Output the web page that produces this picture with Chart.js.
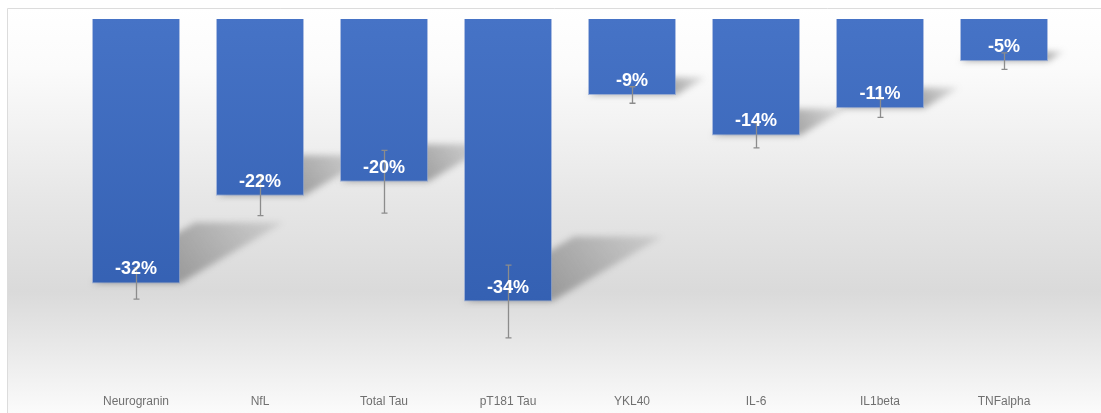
<!DOCTYPE html>
<html lang="en">
<head>
  <meta charset="UTF-8" />
  <title>Biomarker change</title>
  <script src="https://cdn.jsdelivr.net/npm/chart.js"></script>
  <style>
    html, body { margin: 0; padding: 0; background: #fff; overflow: hidden; }
    #chart { display: block; }
  </style>
</head>
<body>
  <canvas id="chart" width="1101" height="413"></canvas>

  <script>
    // data
    const markers = ['Neurogranin', 'NfL', 'Total Tau', 'pT181 Tau', 'YKL40', 'IL-6', 'IL1beta', 'TNFalpha'];
    const change = [-32.0, -21.4, -19.7, -34.2, -9.2, -14.1, -10.8, -5.1];
    const errors = [1.9, 2.4, 3.8, 4.4, 1.0, 1.5, 1.1, 1.0];
    const shownLabels = ['-32%', '-22%', '-20%', '-34%', '-9%', '-14%', '-11%', '-5%'];

    // background panel with soft gray band
    const panelBg = {
      id: 'panelBg',
      beforeDraw(chart) {
        const c = chart.ctx;
        const W = chart.width, H = chart.height;
        c.save();
        c.fillStyle = '#ffffff';
        c.fillRect(0, 0, W, H);
        const g = c.createLinearGradient(0, 8, 0, H);
        g.addColorStop(0, '#ffffff');
        g.addColorStop(0.15, '#fbfbfb');
        g.addColorStop(0.48, '#e6e6e6');
        g.addColorStop(0.7, '#dadada');
        g.addColorStop(0.84, '#e9e9e9');
        g.addColorStop(1, '#fbfbfb');
        c.fillStyle = g;
        c.fillRect(7, 8, W - 7, H - 8);
        c.strokeStyle = '#dcdcdc';
        c.lineWidth = 1;
        c.beginPath();
        c.moveTo(7.5, H);
        c.lineTo(7.5, 8.5);
        c.lineTo(W, 8.5);
        c.stroke();
        c.restore();
      }
    };

    // diagonal drop shadows behind the bars
    const barShadows = {
      id: 'barShadows',
      beforeDatasetsDraw(chart) {
        const c = chart.ctx;
        const meta = chart.getDatasetMeta(0);
        c.save();
        c.filter = 'blur(3px)';
        meta.data.forEach(bar => {
          const h = bar.y - bar.base;
          const xl = bar.x - bar.width / 2;
          const xr = bar.x + bar.width / 2;
          const dx = 0.39 * h, dy = 0.23 * h;
          const g = c.createLinearGradient(xr, bar.y, xr + dx, bar.y - dy);
          g.addColorStop(0, 'rgba(90,90,90,0.5)');
          g.addColorStop(1, 'rgba(90,90,90,0.14)');
          c.fillStyle = g;
          c.beginPath();
          c.moveTo(xl, bar.y);
          c.lineTo(xr, bar.y);
          c.lineTo(xr + dx, bar.y - dy);
          c.lineTo(xl + dx, bar.y - dy);
          c.closePath();
          c.fill();
        });
        c.restore();
      }
    };

    // error bars and value labels
    const barExtras = {
      id: 'barExtras',
      afterDatasetsDraw(chart) {
        const c = chart.ctx;
        const y = chart.scales.y;
        const meta = chart.getDatasetMeta(0);
        c.save();
        c.strokeStyle = '#8c8c8c';
        c.lineWidth = 1.3;
        meta.data.forEach((bar, i) => {
          const top = y.getPixelForValue(change[i] + errors[i]);
          const bot = y.getPixelForValue(change[i] - errors[i]);
          const x = Math.round(bar.x) + 0.5;
          c.beginPath();
          c.moveTo(x, top);
          c.lineTo(x, bot);
          c.moveTo(x - 3, top);
          c.lineTo(x + 3, top);
          c.moveTo(x - 3, bot);
          c.lineTo(x + 3, bot);
          c.stroke();
        });
        c.fillStyle = '#ffffff';
        c.font = 'bold 18px "Liberation Sans", Arial, sans-serif';
        c.textAlign = 'center';
        c.textBaseline = 'middle';
        meta.data.forEach((bar, i) => {
          c.fillText(shownLabels[i], bar.x, bar.y - 14);
        });
        c.restore();
      }
    };

    const ctx = document.getElementById('chart').getContext('2d');

    new Chart(ctx, {
      type: 'bar',
      data: {
        labels: markers,
        datasets: [{
          data: change,
          backgroundColor(context) {
            const area = context.chart.chartArea;
            if (!area) return '#4472c4';
            const g = context.chart.ctx.createLinearGradient(0, area.top, 0, area.top + 290);
            g.addColorStop(0, '#4673c6');
            g.addColorStop(1, '#3460b2');
            return g;
          },
          borderColor: 'rgba(120,150,210,0.6)',
          borderWidth: 1,
          borderSkipped: 'start',
          barPercentage: 0.71,
          categoryPercentage: 1
        }]
      },
      options: {
        responsive: false,
        animation: false,
        devicePixelRatio: 1,
        layout: { padding: { top: 19, left: 74, right: 35, bottom: 0 } },
        scales: {
          y: {
            display: false,
            min: -44.3,
            max: 0
          },
          x: {
            position: 'bottom',
            grid: { display: false, drawTicks: false },
            border: { display: false },
            ticks: {
              color: '#707070',
              padding: 9,
              maxRotation: 0,
              font: { family: '"Liberation Sans", Arial, sans-serif', size: 12 }
            },
            afterFit(scale) { scale.height = 28; }
          }
        },
        plugins: {
          legend: { display: false },
          tooltip: { enabled: false }
        }
      },
      plugins: [panelBg, barShadows, barExtras]
    });
  </script>
</body>
</html>
